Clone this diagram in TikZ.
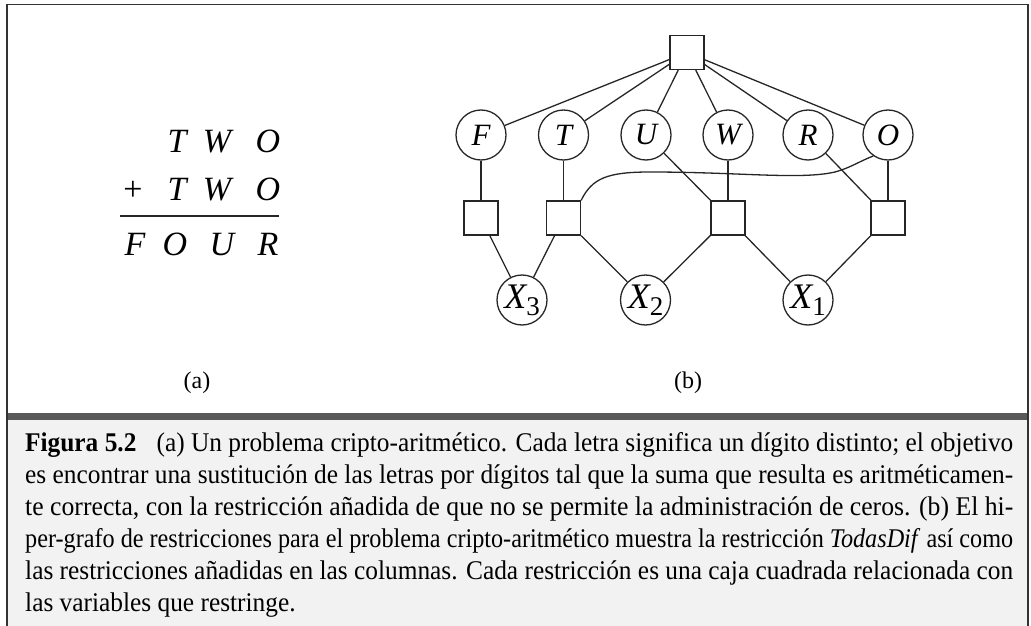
\documentclass[tikz,border=0pt]{standalone}
\usepackage{fontspec}
\setmainfont{Liberation Serif}
\usepackage{graphicx}
\newsavebox\cbox
\newcommand\Xs[1]{\makebox[0pt]{\fontsize{36}{36}\selectfont\textit{X}\raisebox{-7pt}{\fontsize{27}{27}\selectfont\upshape #1}}}
\begin{document}
\begin{tikzpicture}[x=1pt,y=-1pt,
  ink/.style={draw=black!85,line width=1.3pt},
  varnode/.style={ink,circle,minimum size=50pt,inner sep=0pt,font=\fontsize{31}{31}\selectfont\itshape},
  consbox/.style={ink,rectangle,minimum size=34pt,inner sep=0pt},
  conn/.style={ink},
  eqletter/.style={anchor=base,inner sep=0pt,font=\fontsize{34}{34}\selectfont\itshape},
  sublabel/.style={inner sep=0pt,font=\fontsize{24}{24}\selectfont},
  captxt/.style={anchor=base west,inner sep=0pt,font=\fontsize{27}{32}\selectfont}]
\useasboundingbox (0,0) rectangle (1031,626);
% frame and caption background
\fill[black!5] (7,420) rectangle (1028,626);
\fill[black!65] (7,413) rectangle (1028,420);
\draw[black!80,line width=1.3pt] (7,626) -- (7,4.5) -- (1028,4.5) -- (1028,626);
% (a) equation
\node[eqletter] (e1) at (177,152) {T};
\node[eqletter] (e2) at (217,152) {W};
\node[eqletter] (e3) at (268,152) {O};
\node[eqletter,font=\fontsize{34}{34}\selectfont] (e4) at (133,200) {+};
\node[eqletter] (e5) at (177,200) {T};
\node[eqletter] (e6) at (217,200) {W};
\node[eqletter] (e7) at (268,200) {O};
\coordinate (la) at (120,216);
\coordinate (lb) at (279,216);
\draw[black!85,line width=1.4pt] (la) -- (lb);
\node[eqletter] (e8) at (135,255) {F};
\node[eqletter] (e9) at (175,255) {O};
\node[eqletter] (e10) at (222,255) {U};
\node[eqletter] (e11) at (268,255) {R};
% (b) graph
\node[consbox] (top) at (687,52.5) {};
\node[varnode] (F) at (481,135) {F};
\node[varnode] (T) at (563.5,135) {T};
\node[varnode] (U) at (646,135) {U};
\node[varnode] (W) at (728,135) {W};
\node[varnode] (R) at (808,135) {R};
\node[varnode] (O) at (888,135) {O};
\node[consbox] (bF) at (481,218) {};
\node[consbox] (bT) at (563.5,218) {};
\node[consbox] (bW) at (728,218) {};
\node[consbox] (bO) at (888,218) {};
\node[varnode] (X3) at (522,300) {\Xs{3}};
\node[varnode] (X2) at (645.5,300) {\Xs{2}};
\node[varnode] (X1) at (808,300) {\Xs{1}};
\foreach \v in {F,T,U,W,R,O} \draw[conn] (top) -- (\v);
\draw[conn] (F) -- (bF);
\draw[conn] (bF) -- (X3);
\draw[conn] (T) -- (bT);
\draw[conn] (bT) -- (X3);
\draw[conn] (bT) -- (X2);
\draw[conn] (U) -- (bW);
\draw[conn] (W) -- (bW);
\draw[conn] (bW) -- (X2);
\draw[conn] (bW) -- (X1);
\draw[conn] (R) -- (bO);
\draw[conn] (O) -- (bO);
\draw[conn] (bO) -- (X1);
\draw[conn] (bT.north east) .. controls (592,178) and (608,172) .. (650,172)
  .. controls (740,172) and (800,180) .. (835,172)
  .. controls (850,168) and (860,161) .. (O.235);
% labels
\node[sublabel] (la1) at (197,383) {(a)};
\node[sublabel] (lb1) at (688,383) {(b)};
% caption
\node[captxt] (c1) at (25,451) {\resizebox{988pt}{\height}{\textbf{Figura 5.2}\hspace{0.8em}(a) Un problema cripto-aritmético. Cada letra significa un dígito distinto; el objetivo}};
\node[captxt] (c2) at (25,483) {\resizebox{988pt}{\height}{es encontrar una sustitución de las letras por dígitos tal que la suma que resulta es aritméticamen-}};
\node[captxt] (c3) at (25,515) {\resizebox{988pt}{\height}{te correcta, con la restricción añadida de que no se permite la administración de ceros. (b) El hi-}};
\node[captxt] (c4) at (25,547) {\resizebox{988pt}{\height}{per-grafo de restricciones para el problema cripto-aritmético muestra la restricción \textit{TodasDif} así como}};
\node[captxt] (c5) at (25,579) {\resizebox{988pt}{\height}{las restricciones añadidas en las columnas. Cada restricción es una caja cuadrada relacionada con}};
\node[captxt] (c6) at (25,611) {\sbox\cbox{las restricciones añadidas en las columnas. Cada restricción es una caja cuadrada relacionada con}\pgfmathsetmacro\cf{988/\the\wd\cbox}\scalebox{\cf}[1]{las variables que restringe.}};
\end{tikzpicture}
\end{document}
